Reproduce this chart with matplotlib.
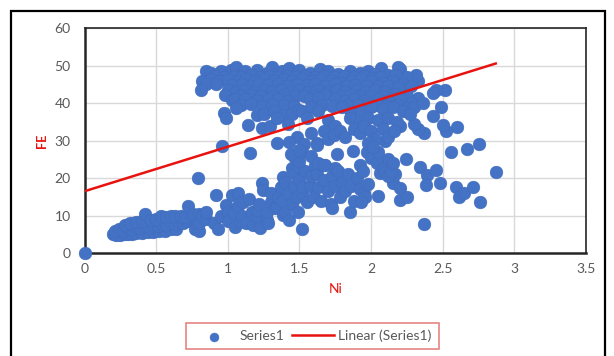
import matplotlib.pyplot as plt
from matplotlib.patches import Rectangle

# Ni / FE readings
band_low = [
    (0.0, 0.0),
    (0.20, 5.0), (0.22, 4.7), (0.25, 4.8), (0.28, 5.0), (0.30, 5.2), (0.33, 5.0), (0.36, 5.3),
    (0.40, 5.4), (0.44, 5.5), (0.48, 5.6), (0.52, 5.8), (0.56, 6.0), (0.60, 6.3), (0.64, 6.5),
    (0.21, 6.0), (0.24, 6.5), (0.27, 6.2), (0.30, 6.8), (0.33, 6.5), (0.36, 7.0), (0.39, 6.8),
    (0.42, 7.2), (0.45, 7.0), (0.48, 7.5), (0.51, 7.3), (0.54, 7.8), (0.57, 7.5), (0.60, 8.0),
    (0.63, 7.8), (0.66, 8.2), (0.69, 8.0), (0.72, 8.5), (0.75, 8.8), (0.78, 9.0),
    (0.28, 7.5), (0.32, 8.0), (0.36, 8.3), (0.40, 8.5), (0.42, 10.3), (0.46, 8.8), (0.50, 9.2),
    (0.53, 9.8), (0.57, 9.5), (0.60, 10.0), (0.63, 9.8), (0.67, 10.0), (0.70, 9.5), (0.72, 12.5),
    (0.76, 10.5), (0.80, 10.5), (0.84, 10.5), (0.79, 20.0), (0.77, 6.5), (0.80, 6.0),
]

band_mid = [
    (0.80, 8.0), (0.82, 10.0), (0.85, 9.0), (0.85, 11.0), (0.90, 8.0), (0.93, 6.4), (0.95, 10.0),
    (0.92, 15.5), (0.99, 12.8), (1.00, 11.0), (1.00, 8.5), (1.03, 15.5), (1.04, 10.7), (1.05, 7.0),
    (1.07, 15.9), (1.07, 12.5), (1.085, 8.4), (1.10, 10.0), (1.105, 13.7), (1.13, 8.0),
    (1.15, 14.5), (1.17, 11.0), (1.175, 7.5), (1.20, 9.5), (1.20, 11.5), (1.22, 13.0),
    (1.225, 6.7), (1.235, 18.6), (1.245, 16.8), (1.27, 8.8), (1.27, 11.0), (1.28, 8.0),
    (1.30, 13.5), (1.30, 16.0), (1.33, 12.0), (1.34, 12.4), (1.35, 15.0), (1.37, 17.5),
    (1.38, 14.0), (1.385, 10.1), (1.385, 20.4), (1.40, 11.0), (1.40, 19.0), (1.42, 16.0),
    (1.43, 8.8), (1.445, 22.6), (1.45, 13.0), (1.46, 18.0), (1.47, 21.0), (1.48, 15.0),
    (1.49, 11.0), (1.50, 23.0), (1.50, 19.5), (1.515, 6.3), (1.52, 16.0), (1.525, 17.7),
    (1.54, 22.0), (1.55, 13.5), (1.57, 18.0), (1.58, 20.5), (1.60, 15.0), (1.61, 23.5),
    (1.62, 21.0), (1.63, 17.5), (1.65, 14.0), (1.66, 23.5), (1.67, 19.5), (1.68, 23.5),
    (1.70, 16.5), (1.72, 13.0), (1.73, 12.0), (1.73, 20.5), (1.75, 22.7), (1.75, 18.0),
    (1.77, 22.0), (1.78, 15.0), (1.80, 19.0), (1.82, 16.5), (1.84, 21.0), (1.85, 11.0),
    (1.86, 18.0), (1.88, 14.0), (1.90, 20.0), (1.92, 23.5), (1.92, 17.0), (1.94, 22.0),
    (1.95, 16.0), (1.96, 15.0), (1.98, 18.5), (1.93, 13.5),
]

band_right = [
    (2.04, 24.8), (2.06, 21.3), (2.11, 22.2), (2.13, 23.0), (2.14, 21.3), (2.15, 18.6),
    (2.17, 21.0), (2.05, 15.2), (2.20, 17.3), (2.20, 14.1), (2.25, 14.9), (2.24, 25.0),
    (2.34, 23.0), (2.39, 20.8), (2.45, 22.2), (2.48, 18.6), (2.38, 18.2), (2.37, 7.7),
    (2.59, 17.7), (2.61, 14.9), (2.65, 16.0), (2.71, 17.7), (2.76, 13.7), (2.875, 21.7),
    (2.56, 27.0), (2.67, 27.9), (2.75, 29.1), (2.60, 33.6), (2.52, 32.6), (2.50, 34.3),
    (2.49, 39.0), (2.515, 43.4), (2.45, 43.5), (2.43, 42.7), (2.43, 36.5), (2.37, 32.0),
    (2.33, 33.0), (2.30, 34.5), (2.20, 34.0), (2.33, 45.9), (2.31, 47.6), (2.20, 49.0),
    (2.19, 49.6), (2.07, 49.4), (2.12, 25.0), (2.10, 30.0),
]

band_high = [
    (0.85, 48.5), (0.88, 48.0), (0.95, 48.5), (1.02, 48.8), (1.06, 49.7), (1.12, 48.5),
    (1.20, 48.8), (1.27, 48.0), (1.305, 49.7), (1.38, 48.5), (1.43, 49.4), (1.50, 48.8),
    (1.57, 48.0), (1.64, 49.0), (1.70, 48.5), (1.77, 47.8), (1.85, 48.5), (1.92, 48.0),
    (1.98, 48.5), (2.03, 47.8), (2.12, 47.5),
    (0.91, 47.2), (0.98, 47.0), (1.04, 47.3), (1.09, 47.0), (1.16, 47.4), (1.23, 47.0),
    (1.29, 47.2), (1.35, 47.0), (1.41, 47.3), (1.47, 47.0), (1.54, 47.2), (1.61, 47.0),
    (1.67, 47.3), (1.74, 47.0), (1.81, 47.2), (1.88, 47.0), (1.95, 47.2), (2.01, 46.8),
    (2.06, 47.0), (2.17, 47.5), (2.25, 47.0),
    (0.82, 46.0), (0.88, 46.5), (0.94, 46.0), (1.00, 46.5), (1.07, 46.0), (1.13, 46.5),
    (1.19, 46.0), (1.25, 46.5), (1.32, 46.0), (1.39, 46.5), (1.45, 46.0), (1.52, 46.5),
    (1.58, 46.0), (1.65, 46.5), (1.72, 46.0), (1.79, 45.5), (1.86, 46.0), (1.93, 46.5),
    (2.00, 46.0), (2.08, 45.5), (2.15, 46.0), (2.22, 45.0), (2.28, 44.5),
    (0.85, 45.2), (0.92, 45.0), (1.03, 44.8), (1.10, 45.0), (1.16, 44.7), (1.22, 45.0),
    (1.28, 44.8), (1.35, 45.0), (1.41, 44.7), (1.48, 45.0), (1.55, 44.8), (1.61, 45.0),
    (1.68, 44.7), (1.75, 45.0), (1.83, 44.6), (1.89, 44.8), (1.97, 44.7), (2.05, 44.5),
    (2.12, 44.5), (2.19, 44.0),
    (0.81, 43.5), (1.00, 43.5), (1.06, 43.0), (1.12, 43.5), (1.18, 43.0), (1.25, 43.5),
    (1.31, 43.0), (1.37, 43.5), (1.44, 43.0), (1.50, 43.5), (1.56, 43.0), (1.62, 43.5),
    (1.70, 43.0), (1.76, 43.5), (1.82, 43.0), (1.90, 43.5), (1.96, 43.0), (2.03, 43.5),
    (2.10, 43.0), (2.17, 42.5), (2.25, 42.0), (2.33, 41.5),
    (1.09, 42.0), (1.16, 42.2), (1.23, 41.8), (1.31, 42.0), (1.39, 42.2), (1.47, 41.8),
    (1.53, 42.0), (1.60, 42.0), (1.68, 42.2), (1.79, 42.0), (1.86, 42.2), (1.93, 42.0),
    (2.00, 42.0), (2.08, 41.8), (2.15, 41.5),
    (0.98, 42.3), (1.03, 40.9), (1.05, 41.0), (1.12, 41.0), (1.20, 40.5), (1.28, 41.0),
    (1.35, 41.0), (1.42, 40.5), (1.57, 41.0), (1.63, 41.5), (1.75, 41.0), (1.82, 40.5),
    (1.88, 41.0), (1.95, 40.5), (2.05, 41.0), (2.12, 40.5), (2.20, 41.0), (2.28, 40.0),
    (1.09, 39.5), (1.16, 39.8), (1.24, 39.3), (1.31, 39.6), (1.39, 39.5), (1.46, 39.3),
    (1.66, 39.6), (1.73, 39.2), (1.84, 39.4), (1.91, 39.6), (1.97, 39.2), (2.04, 39.6),
    (2.11, 39.2), (2.19, 39.5), (2.25, 38.8),
    (0.97, 37.4), (0.99, 36.0), (1.06, 38.7), (1.20, 36.9), (1.25, 37.0), (1.32, 38.0),
    (1.387, 36.9), (1.45, 37.0), (1.50, 38.3), (1.52, 38.0), (1.58, 39.0), (1.63, 38.0),
    (1.80, 39.0), (1.86, 37.5), (1.93, 38.0), (2.00, 39.0), (2.08, 38.5), (2.15, 39.0),
    (2.22, 38.0), (2.30, 39.0), (2.36, 40.0),
    (1.14, 34.3), (1.235, 33.4), (1.295, 33.8), (1.34, 36.0), (1.42, 34.5), (1.55, 36.0),
    (1.70, 35.5), (1.75, 34.0), (1.85, 36.0), (1.92, 35.0), (1.98, 36.0), (2.05, 35.5),
    (2.12, 36.0), (2.18, 35.0), (2.27, 37.0),
    (1.48, 31.0), (1.53, 29.0), (1.58, 32.0), (1.62, 29.5), (1.67, 32.5), (1.70, 30.5),
    (1.74, 31.5), (1.78, 32.5), (1.82, 31.0), (1.88, 33.0), (1.92, 32.0), (1.95, 34.0),
    (2.00, 32.5), (2.03, 30.5), (2.08, 33.0), (2.12, 31.0), (2.16, 32.5), (1.97, 27.0),
    (2.00, 25.5), (2.04, 24.0), (2.08, 22.5), (2.10, 21.5), (2.12, 20.5), (2.14, 22.0),
    (2.15, 24.0), (2.05, 27.0), (1.98, 29.5), (2.01, 28.4), (1.47, 25.5), (1.50, 24.5),
    (1.52, 27.0), (1.44, 26.5), (1.58, 26.0), (1.63, 24.0), (1.67, 23.5),
    (1.34, 29.3), (1.43, 29.7), (1.50, 27.5), (1.62, 28.8), (1.76, 26.4), (1.875, 27.3),
    (0.96, 28.6), (1.155, 26.8),
]

points = band_low + band_mid + band_right + band_high
ni = [p[0] for p in points]
fe = [p[1] for p in points]

# Excel trendline end points
trend_ni = [0.0, 2.87]
trend_fe = [16.5, 50.6]

x_ticks = [0, 0.5, 1, 1.5, 2, 2.5, 3, 3.5]
x_labels = ["0", "0.5", "1", "1.5", "2", "2.5", "3", "3.5"]
y_ticks = [0, 10, 20, 30, 40, 50, 60]

plt.rcParams["font.family"] = ["Lato", "DejaVu Sans"]

fig = plt.figure(figsize=(6.14, 3.56), dpi=100)
ax = fig.add_axes([0.1378, 0.2893, 0.8166, 0.6312])

ax.scatter(ni, fe, s=85, color="#4472C4", edgecolors="#3F6BBB",
           linewidths=0.3, zorder=3, clip_on=False, label="Series1")
ax.plot(trend_ni, trend_fe, color="#E8130F", linewidth=1.8, zorder=4,
        label="Linear (Series1)")

ax.set_xlim(0, 3.5)
ax.set_ylim(0, 60)
ax.set_xticks(x_ticks)
ax.set_xticklabels(x_labels)
ax.set_yticks(y_ticks)
ax.grid(color="#D9D9D9", linewidth=1)
ax.set_axisbelow(True)
ax.tick_params(length=0, labelsize=10, labelcolor="#595959")
ax.tick_params(axis="y", pad=10)
ax.tick_params(axis="x", pad=7)
for side in ["top", "right"]:
    ax.spines[side].set_color("#262626")
    ax.spines[side].set_linewidth(1.2)
for side in ["left", "bottom"]:
    ax.spines[side].set_color("#262626")
    ax.spines[side].set_linewidth(1.8)

ax.set_xlabel("Ni", color="#E8130F", fontsize=10, labelpad=6)
ax.set_ylabel("FE", color="#E8130F", fontsize=9, fontweight="bold", labelpad=5)

leg = fig.legend(loc="center", bbox_to_anchor=(0.509, 0.056), ncol=2,
                 frameon=True, fancybox=False, fontsize=10, handlelength=3,
                 columnspacing=0.6, borderpad=0.5, handletextpad=0.3,
                 markerscale=0.7)
leg.get_frame().set_edgecolor("#E06666")
leg.get_frame().set_linewidth(1.2)
for t in leg.get_texts():
    t.set_color("#595959")

# outer chart border
fig.patches.append(Rectangle((0.018, -0.02), 0.967, 0.989, transform=fig.transFigure,
                             fill=False, edgecolor="black", linewidth=1.6))

plt.savefig("out.png", dpi=100)
